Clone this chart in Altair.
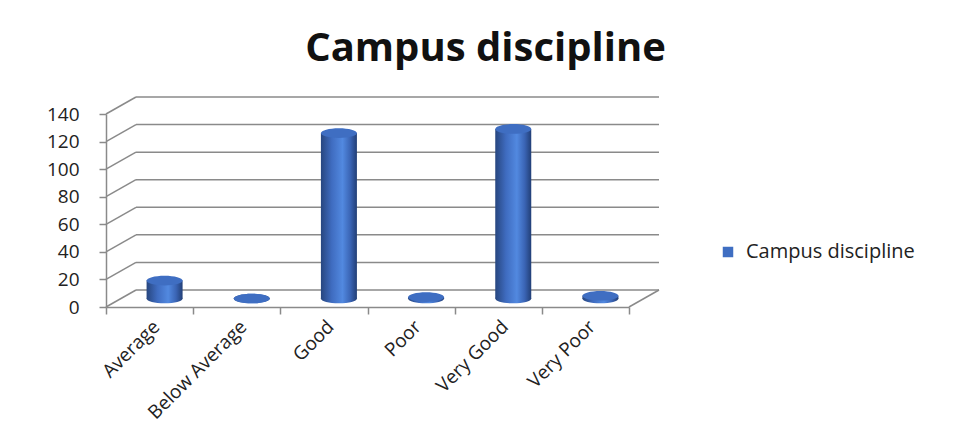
import altair as alt
import pandas as pd

# ---- data ----
categories = ["Average", "Below Average", "Good", "Poor", "Very Good", "Very Poor"]
values = [13, 0, 120, 1, 123, 2]
series_name = "Campus discipline"
y_ticks = [0, 20, 40, 60, 80, 100, 120, 140]

df = pd.DataFrame({"category": categories, "value": values, "series": [series_name] * len(categories)})
grid = pd.DataFrame({"v": y_ticks})
floor = pd.DataFrame({"v": [0]})

# ---- layout / style ----
W, H = 523, 193
DX, DY = 30, -17          # depth offset of back wall
BX, BY = DX / 2, DY / 2   # bars stand at mid depth
BW = 36
GRID = "#8a8a8a"
FONT = "Open Sans"
TEXT = "#222222"
TOP = "#3f6ec2"

ELLIPSE = ("M -1 0 C -1 -0.149 -0.552 -0.27 0 -0.27 C 0.552 -0.27 1 -0.149 1 0 "
           "C 1 0.149 0.552 0.27 0 0.27 C -0.552 0.27 -1 0.149 -1 0 Z")

cyl = alt.Gradient(
    gradient="linear", x1=0, x2=1, y1=0, y2=0,
    stops=[
        alt.GradientStop(offset=0, color="#27467f"),
        alt.GradientStop(offset=0.3, color="#3f6cc0"),
        alt.GradientStop(offset=0.6, color="#5289e0"),
        alt.GradientStop(offset=0.82, color="#3a64b4"),
        alt.GradientStop(offset=1, color="#223f76"),
    ],
)

yscale = alt.Scale(domain=[0, 140], nice=False, zero=True)
xscale = alt.Scale(paddingInner=0, paddingOuter=0)

x_axis = alt.Axis(labelAngle=-45, labelFont=FONT, labelFontSize=19, labelColor=TEXT,
                  domainColor=GRID, domainWidth=1.5, tickColor=GRID, tickWidth=1.5,
                  tickSize=7, tickBand="extent", labelPadding=3, grid=False,
                  labelOverlap=False, labelLimit=0)
y_axis = alt.Axis(values=y_ticks, labelFont=FONT, labelFontSize=19, labelColor=TEXT,
                  domainColor=GRID, domainWidth=1.5, tickColor=GRID, tickWidth=1.5,
                  tickSize=7, labelPadding=20, grid=False, labelOverlap=False)

x_enc = alt.X("category:N", sort=categories, scale=xscale, title=None, axis=x_axis)

back = alt.Chart(grid).mark_rule(color=GRID, strokeWidth=1.5, xOffset=DX, x2Offset=DX, yOffset=DY).encode(
    y=alt.Y("v:Q", scale=yscale, title=None, axis=y_axis),
    x=alt.value(0), x2=alt.value(W),
)

diag = alt.Chart(grid).mark_rule(color=GRID, strokeWidth=1.5, x2Offset=DX, y2Offset=DY).encode(
    y=alt.Y("v:Q", scale=yscale, title=None, axis=y_axis), y2="v", x=alt.value(0), x2=alt.value(0),
)

diag_right = alt.Chart(floor).mark_rule(color=GRID, strokeWidth=1.5, x2Offset=DX, y2Offset=DY).encode(
    y=alt.Y("v:Q", scale=yscale, title=None, axis=y_axis), y2="v", x=alt.value(W), x2=alt.value(W),
)

base = alt.Chart(df)

bottom = base.mark_point(shape=ELLIPSE, size=BW * BW, filled=True, opacity=1, color=cyl,
                         xOffset=BX, yOffset=BY).encode(
    x=x_enc, y=alt.datum(0, scale=yscale, title=None, axis=y_axis))

bars = base.mark_bar(size=BW, color=cyl, xOffset=BX, x2Offset=BX, yOffset=BY, y2Offset=BY).encode(
    x=x_enc, y=alt.Y("value:Q", scale=yscale, title=None, axis=y_axis),
)

tops = base.mark_point(shape=ELLIPSE, size=BW * BW, filled=True, opacity=1,
                       xOffset=BX, yOffset=BY).encode(
    x=x_enc,
    y=alt.Y("value:Q", scale=yscale, title=None, axis=y_axis),
    color=alt.Color("series:N", scale=alt.Scale(range=[TOP]),
                    legend=alt.Legend(title=None, orient="none", legendX=612, legendY=128,
                                      symbolType="square", symbolSize=110, symbolStrokeWidth=0,
                                      labelFont=FONT, labelFontSize=20, labelColor=TEXT,
                                      labelOffset=8, labelLimit=0)),
)

chart = alt.layer(back, diag, diag_right, bottom, bars, tops).properties(
    width=W, height=H,
    view=alt.ViewBackground(stroke="transparent", strokeWidth=0, fill="transparent"),
    title=alt.TitleParams(series_name, font=FONT, fontSize=40, fontWeight="bold", color="#111111",
                          anchor="middle", frame="group", dx=118, dy=-23),
    autosize=alt.AutoSizeParams(type="none"),
    padding={"left": 98, "top": 106, "right": 321, "bottom": 118},
).configure_view(stroke="transparent", strokeWidth=0).configure_axis(grid=False).configure(background="white")

chart.save("out.html", embed_options={"renderer": "svg", "actions": False})
